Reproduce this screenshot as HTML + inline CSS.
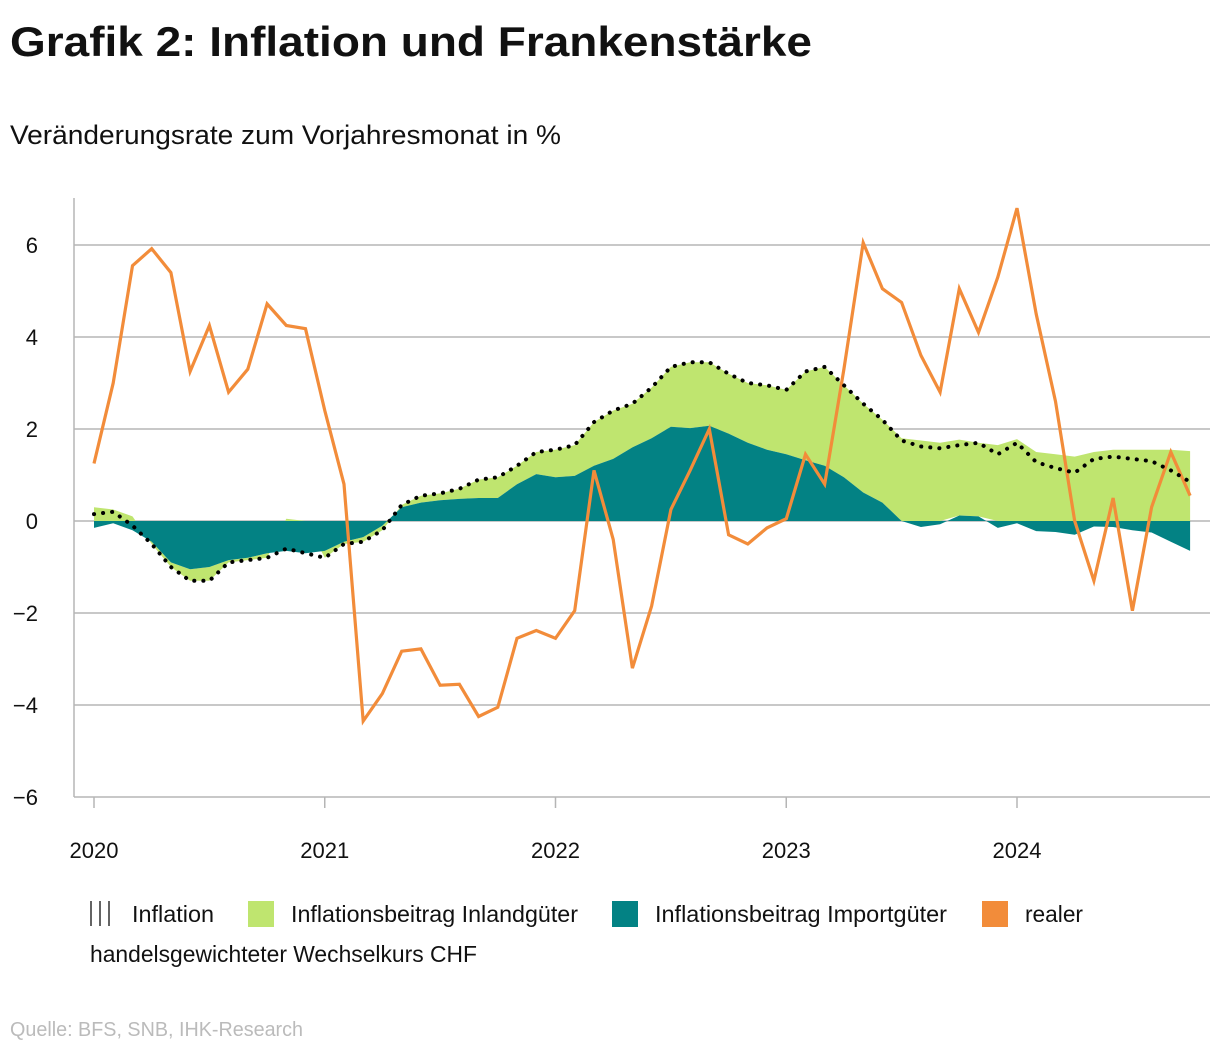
<!DOCTYPE html>
<html><head><meta charset="utf-8"><style>
html,body{margin:0;padding:0;background:#fff;}
svg{display:block;font-family:"Liberation Sans",sans-serif;}
</style></head><body>
<svg id="chart" width="1220" height="1050" viewBox="0 0 1220 1050">
<text x="10" y="56" font-size="42" font-weight="bold" fill="#111" textLength="802" lengthAdjust="spacingAndGlyphs">Grafik 2: Inflation und Frankenstärke</text>
<text x="10" y="144" font-size="27" fill="#111" textLength="551" lengthAdjust="spacingAndGlyphs">Veränderungsrate zum Vorjahresmonat in %</text>
<g id="grid"></g>
<g id="areas"></g>
<g id="lines"></g>
<g id="axes"></g>
<g>
 <g>
  <line x1="91" y1="901" x2="91" y2="926" stroke="#111" stroke-width="1.3"/>
  <line x1="100" y1="901" x2="100" y2="926" stroke="#111" stroke-width="1.3"/>
  <line x1="109" y1="901" x2="109" y2="926" stroke="#111" stroke-width="1.3"/>
  <text x="132" y="922" font-size="23" fill="#111" textLength="82" lengthAdjust="spacingAndGlyphs">Inflation</text>
 </g>
 <g>
  <rect x="248" y="901" width="26" height="26" fill="#bfe56f"/>
  <text x="291" y="922" font-size="23" fill="#111" textLength="287" lengthAdjust="spacingAndGlyphs">Inflationsbeitrag Inlandgüter</text>
 </g>
 <g>
  <rect x="612" y="901" width="26" height="26" fill="#038284"/>
  <text x="655" y="922" font-size="23" fill="#111" textLength="292" lengthAdjust="spacingAndGlyphs">Inflationsbeitrag Importgüter</text>
 </g>
 <g>
  <rect x="982" y="901" width="26" height="26" fill="#f28c3a"/>
  <text x="1025" y="922" font-size="23" fill="#111" textLength="58" lengthAdjust="spacingAndGlyphs">realer</text>
  <text x="90" y="962" font-size="23" fill="#111" textLength="387" lengthAdjust="spacingAndGlyphs">handelsgewichteter Wechselkurs CHF</text>
 </g>
</g>
<text x="10" y="1036" font-size="20" fill="#bbb" textLength="293" lengthAdjust="spacingAndGlyphs">Quelle: BFS, SNB, IHK-Research</text>
</svg>
<script>
const yTicks = [-6, -4, -2, 0, 2, 4, 6];
const xTickLabels = ["2020", "2021", "2022", "2023", "2024"];
const inflation = [0.15,0.2,-0.1,-0.5,-1.0,-1.3,-1.3,-0.9,-0.85,-0.8,-0.6,-0.7,
 -0.8,-0.5,-0.45,-0.2,0.35,0.55,0.6,0.7,0.9,0.95,1.2,1.5,
 1.55,1.65,2.15,2.4,2.55,2.9,3.35,3.45,3.45,3.2,3.0,2.95,
 2.85,3.25,3.35,2.95,2.55,2.2,1.75,1.62,1.58,1.65,1.7,1.45,
 1.7,1.28,1.15,1.05,1.35,1.4,1.35,1.3,1.1,0.85];
const importContrib = [-0.15,-0.05,-0.2,-0.45,-0.9,-1.05,-1.0,-0.85,-0.8,-0.7,-0.65,-0.7,
 -0.65,-0.45,-0.35,-0.1,0.3,0.4,0.45,0.48,0.5,0.5,0.8,1.02,
 0.95,0.98,1.2,1.35,1.6,1.8,2.05,2.02,2.07,1.9,1.7,1.55,
 1.45,1.32,1.2,0.95,0.62,0.4,0.0,-0.13,-0.07,0.12,0.1,-0.15,
 -0.05,-0.22,-0.24,-0.3,-0.12,-0.13,-0.2,-0.25,-0.45,-0.65];
const domesticContrib = [0.3,0.25,0.1,-0.05,-0.1,-0.25,-0.3,-0.05,-0.05,-0.1,0.05,0.0,
 -0.15,-0.05,-0.1,-0.1,0.05,0.15,0.15,0.22,0.4,0.45,0.4,0.48,
 0.6,0.67,0.95,1.05,0.95,1.1,1.3,1.43,1.38,1.3,1.3,1.4,
 1.4,1.93,2.15,2.0,1.93,1.8,1.8,1.75,1.7,1.65,1.6,1.65,
 1.78,1.5,1.45,1.4,1.5,1.55,1.55,1.55,1.55,1.52];
const exchangeRate = [1.25,3.0,5.55,5.92,5.4,3.25,4.25,2.8,3.3,4.72,4.25,4.18,
 2.4,0.8,-4.35,-3.75,-2.83,-2.78,-3.57,-3.55,-4.25,-4.05,-2.55,-2.38,
 -2.55,-1.95,1.1,-0.4,-3.2,-1.85,0.25,1.1,2.0,-0.3,-0.5,-0.15,
 0.05,1.45,0.8,3.3,6.05,5.05,4.75,3.6,2.8,5.05,4.1,5.3,
 6.8,4.5,2.6,0.0,-1.3,0.5,-1.95,0.3,1.5,0.55];

const NS = "http://www.w3.org/2000/svg";
const X0 = 94, PER_MONTH = (1017 - 94) / 48;
const xPos = i => X0 + i * PER_MONTH;
const yPos = v => 521 - v * 46;
function mk(tag, attrs, parent) {
  const e = document.createElementNS(NS, tag);
  for (const k in attrs) e.setAttribute(k, attrs[k]);
  parent.appendChild(e); return e;
}
const grid = document.getElementById('grid'), axes = document.getElementById('axes');
yTicks.forEach(t => {
  const l = mk('line', {x1: 74, x2: 1210, y1: yPos(t), y2: yPos(t), stroke: '#b5b5b5', 'stroke-width': 1.5}, grid);
  
  
  const tx = mk('text', {x: 38, y: yPos(t) + 8, 'font-size': 22, fill: '#111', 'text-anchor': 'end'}, axes);
  tx.textContent = (t < 0 ? '\u2212' + Math.abs(t) : String(t));
  
  
});
const ax = mk('line', {x1: 74, x2: 74, y1: 198, y2: 797, stroke: '#b5b5b5', 'stroke-width': 1.5}, axes);


xTickLabels.forEach((lab, k) => {
  const x = xPos(k * 12);
  const tk = mk('line', {x1: x, x2: x, y1: 797, y2: 808, stroke: '#b5b5b5', 'stroke-width': 1.5}, axes);
  
  
  const tx = mk('text', {x: x, y: 858, 'font-size': 22, fill: '#111', 'text-anchor': 'middle'}, axes);
  tx.textContent = lab;
  
  
});
// stacked areas
const tealLo = [], tealHi = [], greenLo = [], greenHi = [];
importContrib.forEach((v, i) => {
  let pos = 0, neg = 0;
  if (v >= 0) { tealLo.push(pos); tealHi.push(pos + v); pos += v; }
  else { tealLo.push(neg); tealHi.push(neg + v); neg += v; }
  const d = domesticContrib[i];
  if (d >= 0) { greenLo.push(pos); greenHi.push(pos + d); }
  else { greenLo.push(neg); greenHi.push(neg + d); }
});
function areaPath(lo, hi) {
  let d = '';
  hi.forEach((v, i) => d += (i ? 'L' : 'M') + xPos(i).toFixed(1) + ',' + yPos(v).toFixed(1));
  for (let i = lo.length - 1; i >= 0; i--) d += 'L' + xPos(i).toFixed(1) + ',' + yPos(lo[i]).toFixed(1);
  return d + 'Z';
}
const areas = document.getElementById('areas');
const ga = mk('path', {d: areaPath(greenLo, greenHi), fill: '#bfe56f'}, areas);


const ta = mk('path', {d: areaPath(tealLo, tealHi), fill: '#038284'}, areas);


function linePath(arr) {
  return arr.map((v, i) => (i ? 'L' : 'M') + xPos(i).toFixed(1) + ',' + yPos(v).toFixed(1)).join('');
}
const lines = document.getElementById('lines');
const ol = mk('path', {d: linePath(exchangeRate), fill: 'none', stroke: '#f28c3a', 'stroke-width': 3.2, 'stroke-linejoin': 'miter'}, lines);


const il = mk('path', {d: linePath(inflation), fill: 'none', stroke: '#000', 'stroke-width': 4, 'stroke-dasharray': '0.1 9', 'stroke-linecap': 'round'}, lines);


</script>
</body></html>
